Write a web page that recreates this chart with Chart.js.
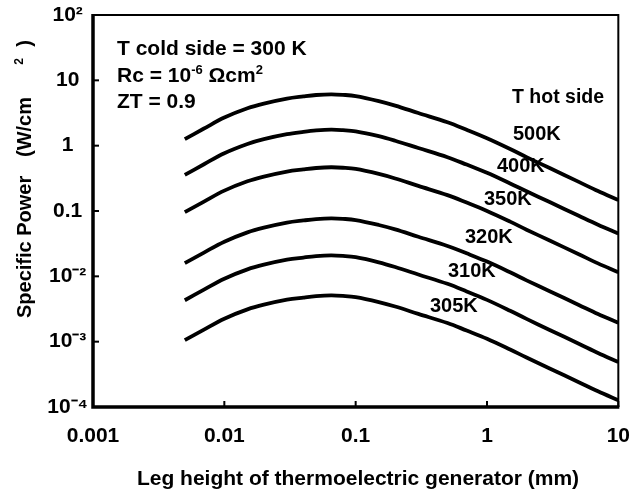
<!DOCTYPE html>
<html><head><meta charset="utf-8">
<script src="https://cdn.jsdelivr.net/npm/chart.js@4.4.0/dist/chart.umd.min.js"></script>
<style>html,body{margin:0;padding:0;background:#fff}#wrap{width:639px;height:489px}</style>
</head><body><div id="wrap"><canvas id="c" width="639" height="489"></canvas></div>
<script>
// ---- data ----
const legHeight = [0.005,0.007,0.01,0.015,0.02,0.03,0.04,0.05,0.065,0.08,0.1,0.15,0.2,0.3,0.5,0.7,1,1.5,2,3,5,7,10];
const power500K = [1.26,1.83,2.69,3.73,4.40,5.25,5.67,5.96,6.11,6.00,5.75,4.82,4.11,3.16,2.28,1.75,1.30,0.89,0.668,0.454,0.279,0.202,0.147];
const power400K = [0.357,0.52,0.767,1.063,1.258,1.50,1.627,1.71,1.76,1.728,1.66,1.40,1.19,0.92,0.666,0.513,0.384,0.264,0.200,0.137,0.0845,0.0616,0.0451];
const power350K = [0.0960,0.1395,0.205,0.2845,0.336,0.401,0.433,0.455,0.467,0.459,0.440,0.369,0.315,0.242,0.175,0.1345,0.1002,0.0688,0.0518,0.0353,0.0218,0.0158,0.01155];
const power320K = [0.0159,0.0231,0.0339,0.0471,0.0555,0.0663,0.0716,0.0752,0.0771,0.0758,0.0727,0.0611,0.0523,0.0403,0.0292,0.0225,0.0168,0.01152,0.00868,0.00592,0.00365,0.00265,0.00194];
const power310K = [0.00431,0.00626,0.0092,0.01277,0.01506,0.01797,0.0194,0.0204,0.0209,0.0205,0.0196,0.0164,0.0139,0.01068,0.00768,0.00588,0.00436,0.00297,0.00223,0.00151,0.00093,0.00067,0.000486];
const power305K = [0.001053,0.00153,0.00225,0.00312,0.00368,0.00439,0.00474,0.00498,0.00511,0.00502,0.00481,0.00404,0.00345,0.00266,0.00193,0.00148,0.00111,0.000759,0.000571,0.000389,0.00024,0.000174,0.000127];
const seriesNames = ['500K','400K','350K','320K','310K','305K'];
const xTickValues = [0.001,0.01,0.1,1,10];
const xTickLabels = ['0.001','0.01','0.1','1','10'];
const yTickValues = [1e-4,1e-3,1e-2,0.1,1,10,100];
const yTickLabels = ['10\u207B\u2074','10\u207B\u00B3','10\u207B\u00B2','0.1','1','10','10\u00B2'];

const FONT = "'Liberation Sans', Arial, Helvetica, sans-serif";
Chart.defaults.font.family = FONT;
Chart.defaults.font.weight = 'bold';
Chart.defaults.color = '#000';

const allSeries = [power500K, power400K, power350K, power320K, power310K, power305K];
const datasets = allSeries.map((s, i) => ({
  label: seriesNames[i],
  data: s.map((v, j) => ({x: legHeight[j], y: v})),
  borderColor: '#000',
  borderWidth: 3.8,
  pointRadius: 0,
  fill: false,
  tension: 0.35
}));

function richText(ctx, x, y, segs, size, align) {
  const supSize = Math.round(size * 0.62);
  let total = 0;
  const widths = segs.map(([t, sup]) => {
    ctx.font = `bold ${sup ? supSize : size}px ${FONT}`;
    const w = ctx.measureText(t).width; total += w; return w;
  });
  let cx = align === 'center' ? x - total / 2 : (align === 'right' ? x - total : x);
  segs.forEach(([t, sup], i) => {
    ctx.font = `bold ${sup ? supSize : size}px ${FONT}`;
    ctx.fillText(t, cx, sup ? y - size * 0.4 : y);
    cx += widths[i];
  });
}

const decor = {
  id: 'decor',
  afterDraw(chart) {
    const ctx = chart.ctx, a = chart.chartArea;
    const xs = chart.scales.x, ys = chart.scales.y;
    ctx.save();
    ctx.strokeStyle = '#000';
    ctx.lineCap = 'butt';
    ctx.lineWidth = 2; ctx.beginPath();
    ctx.moveTo(a.left, a.top); ctx.lineTo(a.right, a.top); ctx.lineTo(a.right, a.bottom); ctx.stroke();
    ctx.lineWidth = 3.5; ctx.beginPath();
    ctx.moveTo(a.left, a.top - 1); ctx.lineTo(a.left, a.bottom); ctx.lineTo(a.right + 1, a.bottom); ctx.stroke();
    ctx.lineWidth = 2;
    yTickValues.forEach(v => { const py = ys.getPixelForValue(v); ctx.beginPath(); ctx.moveTo(a.left, py); ctx.lineTo(a.left + 6, py); ctx.stroke(); });
    xTickValues.forEach(v => { const px = xs.getPixelForValue(v); ctx.beginPath(); ctx.moveTo(px, a.bottom); ctx.lineTo(px, a.bottom - 6); ctx.stroke(); });
    ctx.fillStyle = '#000';
    ctx.textBaseline = 'alphabetic';
    ctx.textAlign = 'left';
    const B = 21, S = 19.5;
    richText(ctx, 117, 55, [['T cold side = 300 K', false]], B);
    richText(ctx, 117, 82, [['Rc = 10', false], ['-6', true], [' \u03A9cm', false], ['2', true]], B);
    richText(ctx, 117, 108, [['ZT = 0.9', false]], B);
    richText(ctx, 512, 103, [['T hot side', false]], S);
    const labelPos = [[513,140],[497,172],[484,205],[465,243],[448,277],[430,312]];
    seriesNames.forEach((n, i) => richText(ctx, labelPos[i][0], labelPos[i][1], [[n, false]], 20));
    richText(ctx, 358, 485, [['Leg height of thermoelectric generator (mm)', false]], 21, 'center');
    // y title (rotated)
    ctx.translate(31, 0);
    ctx.rotate(-Math.PI / 2);
    richText(ctx, -318, 0, [['Specific Power', false]], 20);
    richText(ctx, -97, 0, [['(W/cm', false]], 20, 'right');
    richText(ctx, -58, 0, [['2', true]], 20, 'right');
    richText(ctx, -40, 0, [[')', false]], 20, 'right');
    ctx.restore();
  }
};

new Chart(document.getElementById('c'), {
  type: 'line',
  data: { datasets },
  options: {
    responsive: false,
    animation: false,
    events: [],
    layout: { padding: { top: 15, right: 12, left: 0, bottom: 0 } },
    plugins: { legend: { display: false }, tooltip: { enabled: false } },
    scales: {
      x: {
        type: 'logarithmic', min: 0.001, max: 10,
        grid: { display: false }, border: { display: false },
        afterBuildTicks: s => { s.ticks = xTickValues.map(v => ({ value: v })); },
        afterFit: s => { s.height = 82; },
        ticks: { font: { size: 21, weight: 'bold' }, color: '#000', padding: 9, maxRotation: 0, autoSkip: false,
          callback: (v, i) => xTickLabels[i] }
      },
      y: {
        type: 'logarithmic', min: 1e-4, max: 100,
        grid: { display: false }, border: { display: false },
        afterBuildTicks: s => { s.ticks = yTickValues.map(v => ({ value: v })); },
        afterFit: s => { s.width = 93; },
        ticks: { font: { size: 21, weight: 'bold' }, color: '#000', padding: -3, crossAlign: 'center', autoSkip: false,
          callback: (v, i) => yTickLabels[i] }
      }
    }
  },
  plugins: [decor]
});
</script>
</body></html>
